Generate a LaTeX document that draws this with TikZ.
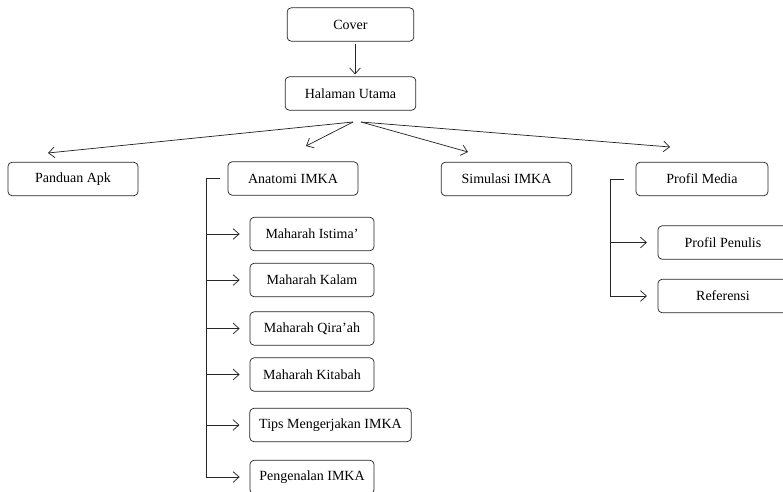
\documentclass[tikz,border=0pt]{standalone}
\usepackage{fontspec}
\setmainfont{Liberation Serif}
\usetikzlibrary{arrows.meta, calc}

\begin{document}
\begin{tikzpicture}[x=0.75pt, y=-0.75pt, line width=0.55pt, draw=black!85, >={Straight Barb[length=4.5pt,width=8pt]},
    box/.style={draw=black!85, rounded corners=3pt, minimum height=25pt, inner sep=2pt, font=\fontsize{10.5}{12}\selectfont},
    subbox/.style={box, minimum width=93pt}]
    \useasboundingbox (0,0) rectangle (783,492);
    % top
    \node[box, minimum width=95pt] (cover) at (350.5,24.5) {Cover};
    \node[box, minimum width=98pt] (halaman) at (350.5,93.5) {Halaman Utama};
    \draw[->] ([xshift=3.4pt,yshift=-1.5pt]cover.south) -- ([xshift=3.4pt,yshift=1.5pt]halaman.north);
    % menu
    \node[box, minimum width=97.5pt] (panduan) at (73,179) {Panduan Apk};
    \node[box, minimum width=97.5pt] (anatomi) at (293,178.5) {Anatomi IMKA};
    \node[box, minimum width=98pt] (simulasi) at (506.5,179) {Simulasi IMKA};
    \node[box, minimum width=99pt] (profil) at (702,179) {Profil Media};
    \coordinate (forkL) at (353,122); \coordinate (forkR) at (361,122);
    \coordinate (toPanduan) at (48,153); \coordinate (toAnatomi) at (306,146);
    \coordinate (toSimulasi) at (468,152); \coordinate (toProfil) at (670,147);
    \draw[->] (forkL) -- (toPanduan);
    \draw[->] (forkL) -- (toAnatomi);
    \draw[->] (forkR) -- (toSimulasi);
    \draw[->] (forkR) -- (toProfil);
    % anatomi
    \node[subbox] (istima) at (312,234) {Maharah Istima’};
    \node[subbox] (kalam) at (312,280) {Maharah Kalam};
    \node[subbox] (qiraah) at (312,328.5) {Maharah Qira’ah};
    \node[subbox] (kitabah) at (312,374.5) {Maharah Kitabah};
    \node[box, minimum width=121pt] (tips) at (330.5,425) {Tips Mengerjakan IMKA};
    \node[subbox] (pengenalan) at (312,477) {Pengenalan IMKA};
    \coordinate (spineA) at (206,178.5);
    \draw ([xshift=-6pt]anatomi.west) -- (spineA) -- (spineA |- pengenalan);
    \foreach \n in {istima, kalam, qiraah, kitabah, tips, pengenalan}
        \draw[->] (spineA |- \n) -- ([xshift=-7.5pt]\n.west);
    % profil media
    \node[box, minimum width=97.5pt] (penulis) at (723,242.5) {Profil Penulis};
    \node[box, minimum width=97.5pt] (referensi) at (723,296) {Referensi};
    \coordinate (spineP) at (610,179);
    \draw ([xshift=-9pt]profil.west) -- (spineP) -- (spineP |- referensi);
    \foreach \n in {penulis, referensi}
        \draw[->] (spineP |- \n) -- ([xshift=-8pt]\n.west);
\end{tikzpicture}
\end{document}
